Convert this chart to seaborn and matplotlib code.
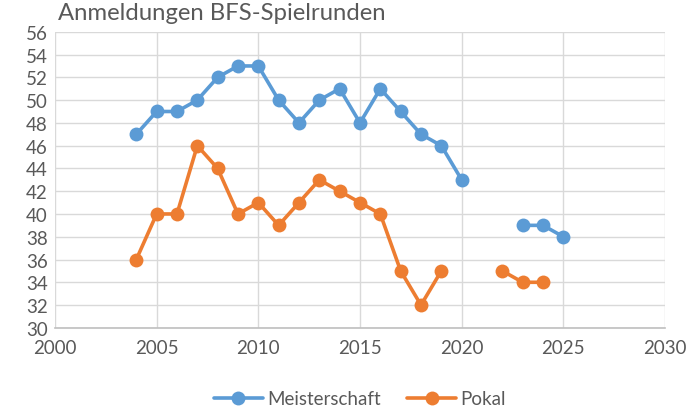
import numpy as np
import pandas as pd
import matplotlib
matplotlib.use("Agg")
import matplotlib.pyplot as plt
import seaborn as sns

years = list(range(2004, 2026))
meisterschaft = [47, 49, 49, 50, 52, 53, 53, 50, 48, 50, 51, 48, 51, 49, 47, 46, 43,
                 np.nan, np.nan, 39, 39, 38]
pokal = [36, 40, 40, 46, 44, 40, 41, 39, 41, 43, 42, 41, 40, 35, 32, 35, np.nan,
         np.nan, 35, 34, 34, np.nan]

# Lücken (NaN) trennen die Linien in einzelne Teile
rows = []
for name, values in [("Meisterschaft", meisterschaft), ("Pokal", pokal)]:
    seg = 0
    for y, v in zip(years, values):
        if np.isnan(v):
            seg += 1
            continue
        rows.append({"Jahr": y, "Anzahl": v, "Serie": name, "Teil": seg})
df = pd.DataFrame(rows)

sns.set_theme(style="white")
plt.rcParams["font.family"] = ["Lato", "DejaVu Sans"]

fig = plt.figure(figsize=(6.87, 4.10), dpi=100)
ax = fig.add_axes([0.080, 0.198, 0.888, 0.722])

sns.lineplot(data=df, x="Jahr", y="Anzahl", hue="Serie", units="Teil", estimator=None,
             palette={"Meisterschaft": "#5B9BD5", "Pokal": "#ED7D31"},
             marker="o", markersize=10, markeredgewidth=0, linewidth=2.6, ax=ax)

ax.set_xlim(2000, 2030)
ax.set_ylim(30, 56)
ax.set_xticks(range(2000, 2031, 5))
ax.set_yticks(range(30, 57, 2))
ax.grid(True, color="#D9D9D9", linewidth=1)
ax.set_axisbelow(True)
for s in ["top", "right", "left"]:
    ax.spines[s].set_visible(False)
ax.spines["bottom"].set_color("#BFBFBF")
ax.spines["bottom"].set_linewidth(1.2)
ax.tick_params(length=0, labelsize=13.5, colors="#595959", pad=8)
ax.tick_params(axis="y", pad=5)
ax.set_xlabel("")
ax.set_ylabel("")

handles, labels = ax.get_legend_handles_labels()
ax.legend(handles, labels, loc="center", bbox_to_anchor=(0.5, -0.24), ncol=2,
          frameon=False, fontsize=13.5, handlelength=2.6, columnspacing=1.4,
          handletextpad=0.25, labelcolor="#595959")

fig.text(58 / 687, 1 - 3 / 410, "Anmeldungen BFS-Spielrunden", ha="left", va="top",
         fontsize=17.2, color="#595959")

fig.savefig("out.png", dpi=100)
